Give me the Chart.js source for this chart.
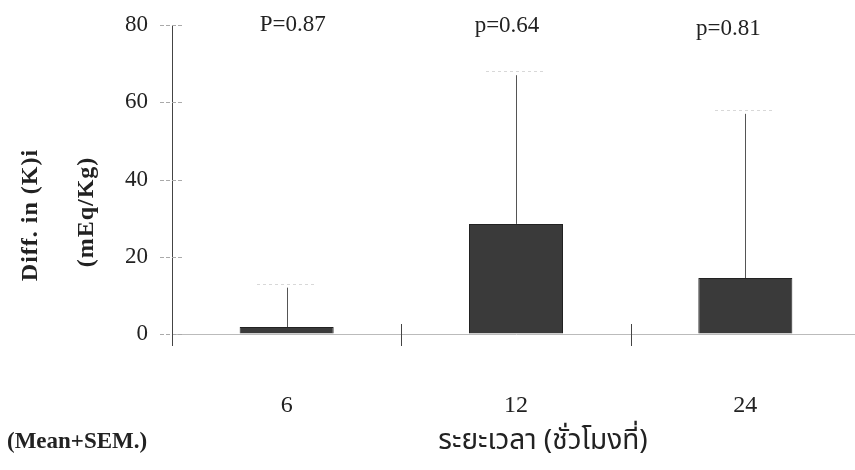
<!DOCTYPE html>
<html>
<head>
<meta charset="utf-8">
<script src="https://cdn.jsdelivr.net/npm/chart.js@4.4.1/dist/chart.umd.min.js"></script>
<style>
  html, body { margin: 0; padding: 0; background: #fff; overflow: hidden; }
  #wrap { width: 855px; height: 470px; overflow: hidden; }
</style>
</head>
<body>
<div id="wrap"><canvas id="chart" width="860" height="470"></canvas></div>
<script>
// hours after treatment
const hours = ['6', '12', '24'];
// mean difference and SEM (mEq/Kg)
const meanVals = [1.8, 28.5, 14.5];
const semVals = [10.2, 38.5, 42.5];
const pLabels = ['P=0.87', 'p=0.64', 'p=0.81'];
const yTicks = [0, 20, 40, 60, 80];

const serif = "'Liberation Serif', 'DejaVu Serif', serif";
const thai = "'Noto Sans Thai', 'Noto Serif Thai', 'Loma', 'Garuda', 'Noto Sans', sans-serif";

// error bars, tick marks and the loose texts
const extras = {
  id: 'extras',
  afterDatasetsDraw(chart) {
    const ctx = chart.ctx;
    const xs = chart.scales.x;
    const ys = chart.scales.y;
    const y0 = ys.getPixelForValue(0);
    const axisX = ys.right;

    ctx.save();
    // whiskers (mean + SEM)
    hours.forEach((h, i) => {
      const x = Math.round(xs.getPixelForValue(i));
      const yBar = ys.getPixelForValue(meanVals[i]);
      const yTop = ys.getPixelForValue(meanVals[i] + semVals[i]);
      ctx.strokeStyle = '#555';
      ctx.lineWidth = 1;
      ctx.setLineDash([]);
      ctx.beginPath();
      ctx.moveTo(x + 0.5, yBar);
      ctx.lineTo(x + 0.5, yTop);
      ctx.stroke();
      ctx.strokeStyle = '#d8d8d8';
      ctx.setLineDash([3, 3]);
      ctx.beginPath();
      ctx.moveTo(x - 30, Math.round(yTop) - 3.5);
      ctx.lineTo(x + 30, Math.round(yTop) - 3.5);
      ctx.stroke();
    });

    // y tick marks crossing the axis
    ctx.strokeStyle = '#aaa';
    ctx.setLineDash([4, 2]);
    yTicks.forEach(v => {
      const y = Math.round(ys.getPixelForValue(v)) + 0.5;
      ctx.beginPath();
      ctx.moveTo(axisX - 12, y);
      ctx.lineTo(axisX + 11, y);
      ctx.stroke();
    });

    // axis continues a bit below zero, separators between groups
    ctx.setLineDash([]);
    ctx.strokeStyle = '#444';
    ctx.beginPath();
    ctx.moveTo(axisX + 0.5, y0);
    ctx.lineTo(axisX + 0.5, y0 + 12);
    ctx.stroke();
    for (let i = 0; i < hours.length - 1; i++) {
      const x = Math.round((xs.getPixelForValue(i) + xs.getPixelForValue(i + 1)) / 2) + 0.5;
      ctx.beginPath();
      ctx.moveTo(x, y0 - 10);
      ctx.lineTo(x, y0 + 12);
      ctx.stroke();
    }

    // p values
    const pShift = [6, -9, -17];
    const pBase = [31, 32, 35];
    ctx.fillStyle = '#222';
    ctx.font = '23px ' + serif;
    ctx.textAlign = 'center';
    ctx.textBaseline = 'alphabetic';
    pLabels.forEach((t, i) => {
      ctx.fillText(t, xs.getPixelForValue(i) + pShift[i], pBase[i]);
    });

    // y title (two lines)
    ctx.font = 'bold 24px ' + serif;
    ctx.letterSpacing = '1px';
    ctx.save();
    ctx.translate(37, 215);
    ctx.rotate(-Math.PI / 2);
    ctx.fillText('Diff. in (K)i', 0, 0);
    ctx.restore();
    ctx.save();
    ctx.translate(93, 212);
    ctx.rotate(-Math.PI / 2);
    ctx.fillText('(mEq/Kg)', 0, 0);
    ctx.restore();

    // bottom texts
    ctx.textAlign = 'left';
    ctx.font = 'bold 23px ' + serif;
    ctx.letterSpacing = '0px';
    ctx.fillText('(Mean+SEM.)', 7, 448);
    ctx.textAlign = 'center';
    ctx.font = '28px ' + thai;
    ctx.fillText('ระยะเวลา (ชั่วโมงที่)', 543, 449);
    ctx.restore();
  }
};

new Chart(document.getElementById('chart'), {
  type: 'bar',
  data: {
    labels: hours,
    datasets: [{
      data: meanVals,
      backgroundColor: '#3a3a3a',
      borderColor: '#222',
      borderWidth: 1,
      barPercentage: 0.41,
      categoryPercentage: 1
    }]
  },
  options: {
    responsive: false,
    animation: false,
    devicePixelRatio: 1,
    layout: { padding: { top: 25, right: 0, left: 0, bottom: 0 } },
    plugins: { legend: { display: false }, tooltip: { enabled: false } },
    scales: {
      y: {
        min: 0,
        max: 80,
        afterFit: s => { s.width = 172; s.paddingTop = 0; s.paddingBottom = 0; },
        ticks: {
          stepSize: 20,
          padding: 24,
          color: '#222',
          font: { family: serif, size: 23 }
        },
        grid: { display: true, drawOnChartArea: false, drawTicks: false },
        border: { display: true, color: '#444', width: 1 }
      },
      x: {
        afterFit: s => { s.height = 136; s.paddingLeft = 0; s.paddingRight = 0; },
        ticks: {
          padding: 57,
          color: '#222',
          font: { family: serif, size: 24 }
        },
        grid: { display: true, drawOnChartArea: false, drawTicks: false, color: 'rgba(0,0,0,0)' },
        border: { display: true, color: '#bbb', width: 1, dash: [3, 4] }
      }
    }
  },
  plugins: [extras]
});
</script>
</body>
</html>
